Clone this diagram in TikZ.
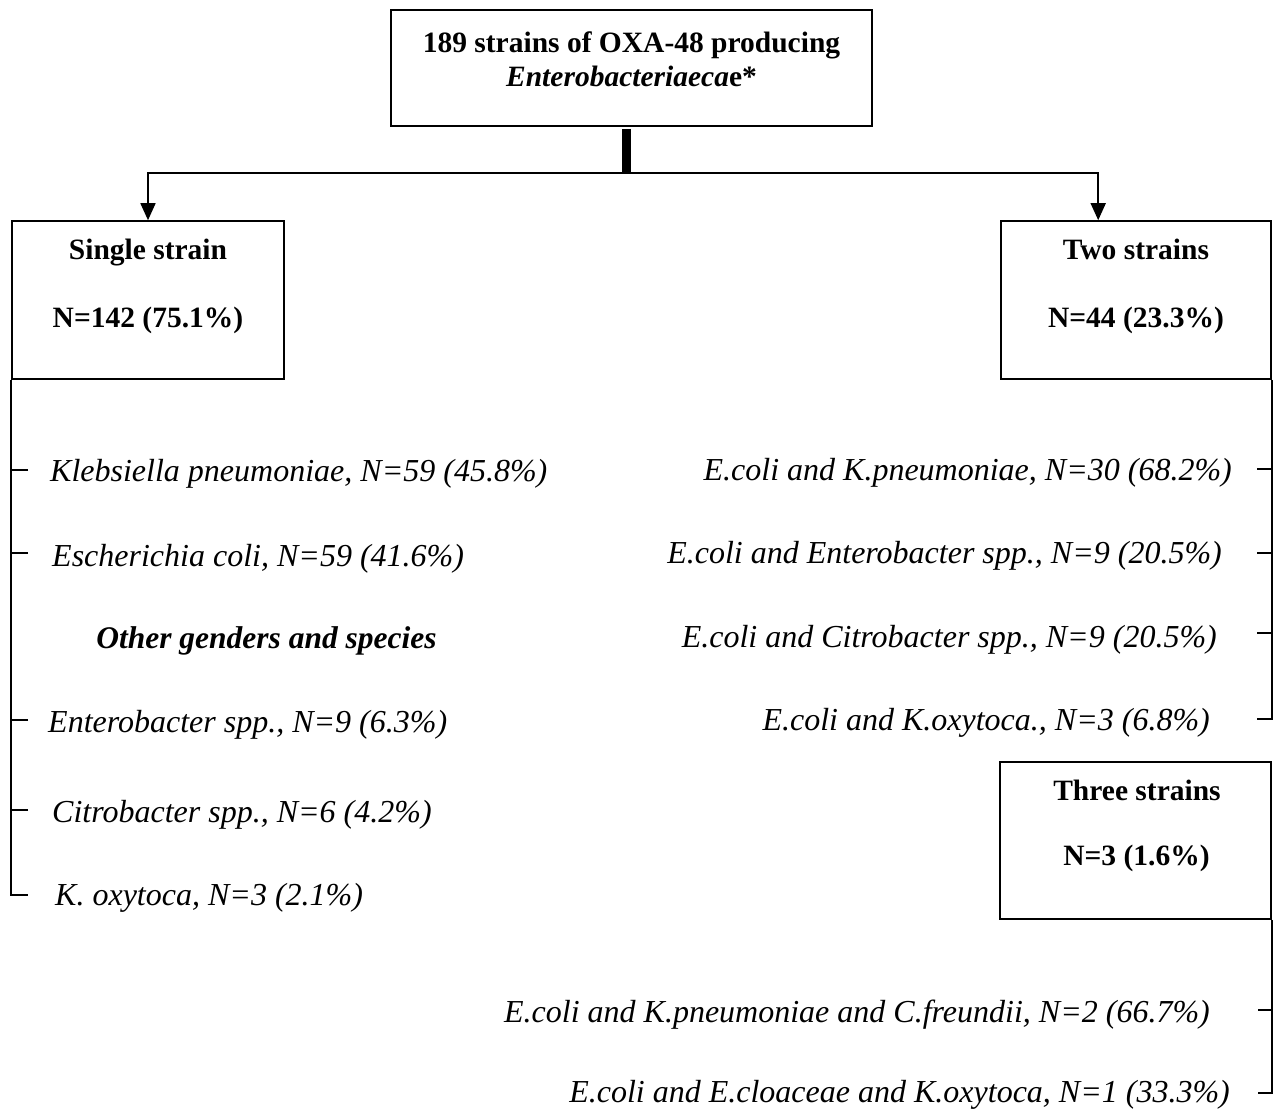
\documentclass[tikz,border=0pt]{standalone}
\usepackage{fontspec}
\setmainfont{Liberation Serif}
\usetikzlibrary{arrows.meta}
\begin{document}
\begin{tikzpicture}[x=1pt,y=-1pt,
  box/.style={draw, line width=1.6pt, inner sep=0pt},
  hdr/.style={anchor=base, inner sep=0pt, font=\fontsize{29.5}{34}\selectfont\bfseries},
  subhdr/.style={anchor=base, inner sep=0pt, font=\fontsize{31.5}{36}\selectfont\bfseries\itshape},
  itmL/.style={anchor=base west, inner sep=0pt, font=\fontsize{32}{38}\selectfont\itshape},
  itmR/.style={anchor=base east, inner sep=0pt, font=\fontsize{32}{38}\selectfont\itshape},
  conn/.style={line width=1.6pt},
  arr/.style={conn, -{Triangle[length=17pt,width=15pt]}},
  bar/.style={line width=8.5pt}
]
\path[use as bounding box] (0,0) rectangle (1275,1110);

% boxes
\node[box, minimum width=481pt, minimum height=116pt] (top) at (631.5,68) {};
\node[box, minimum width=272pt, minimum height=158pt] (single) at (148,300) {};
\node[box, minimum width=270pt, minimum height=158pt] (two) at (1136,300) {};
\node[box, minimum width=271pt, minimum height=157pt] (three) at (1135.5,840.5) {};

% box texts
\node[hdr] (t1) at (631.5,53) {189 strains of OXA-48 producing};
\node[hdr] (t2) at (631.5,87) {\textit{Enterobacteriaeca}e*};
\node[hdr] (s1) at (148,260) {Single strain};
\node[hdr] (s2) at (148,327) {N=142 (75.1\%)};
\node[hdr] (w1) at (1136,260) {Two strains};
\node[hdr] (w2) at (1136,327) {N=44 (23.3\%)};
\node[hdr] (h1) at (1137,800) {Three strains};
\node[hdr] (h2) at (1136.5,865) {N=3 (1.6\%)};

% top connectors
\coordinate (barTop) at (626.5,129);
\coordinate (jn) at (626.5,173);
\draw[bar] (barTop) -- (jn);
\coordinate (twoIn) at ([xshift=98pt]two.north west);
\draw[arr] (jn) -| (single.north);
\draw[arr] (jn) -| (twoIn);

% left list
\node[itmL] (a1) at (50,481) {Klebsiella pneumoniae, N=59 (45.8\%)};
\node[itmL] (a2) at (52,566) {Escherichia coli, N=59 (41.6\%)};
\node[subhdr] (a0) at (266.5,648) {Other genders and species};
\node[itmL] (a3) at (48,732) {Enterobacter spp., N=9 (6.3\%)};
\node[itmL] (a4) at (52,822) {Citrobacter spp., N=6 (4.2\%)};
\node[itmL] (a5) at (55,905) {K. oxytoca, N=3 (2.1\%)};

\coordinate (lt1) at (28,470);
\coordinate (lt2) at (28,553);
\coordinate (lt3) at (28,720);
\coordinate (lt4) at (28,810);
\coordinate (lEnd) at (28,895);
\draw[conn] (single.south west) |- (lEnd);
\foreach \c in {lt1,lt2,lt3,lt4}{\draw[conn] (\c) -- (single.west |- \c);}

% right list (two strains)
\node[itmR] (b1) at (1232,480) {E.coli and K.pneumoniae, N=30 (68.2\%)};
\node[itmR] (b2) at (1222,563) {E.coli and Enterobacter spp., N=9 (20.5\%)};
\node[itmR] (b3) at (1217,647) {E.coli and Citrobacter spp., N=9 (20.5\%)};
\node[itmR] (b4) at (1210,730) {E.coli and K.oxytoca., N=3 (6.8\%)};

\coordinate (rt1) at (1257,469);
\coordinate (rt2) at (1257,553);
\coordinate (rt3) at (1257,633);
\coordinate (rEnd) at (1257,719);
\draw[conn] (two.south east) |- (rEnd);
\foreach \c in {rt1,rt2,rt3}{\draw[conn] (\c) -- (two.east |- \c);}

% right list (three strains)
\node[itmR] (c1) at (1210,1022) {E.coli and K.pneumoniae and C.freundii, N=2 (66.7\%)};
\node[itmR] (c2) at (1230,1102) {E.coli and E.cloaceae and K.oxytoca, N=1 (33.3\%)};

\coordinate (ht1) at (1258,1010);
\coordinate (hEnd) at (1258,1093);
\draw[conn] (three.south east) |- (hEnd);
\draw[conn] (ht1) -- (three.east |- ht1);
\end{tikzpicture}
\end{document}
